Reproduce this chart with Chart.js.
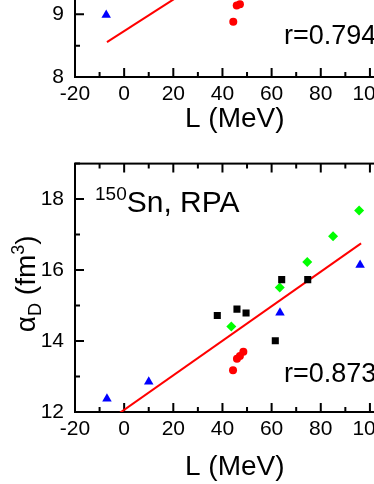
<!DOCTYPE html>
<html lang="en">
<head>
<meta charset="UTF-8">
<title>alpha_D vs L</title>
<script src="https://cdn.jsdelivr.net/npm/chart.js"></script>
<style>
  html, body { margin: 0; padding: 0; background: #fff; }
  body { position: relative; width: 374px; height: 484px; overflow: hidden; }
  canvas { position: absolute; left: 0; }
  #topChart { top: -260px; }
  #bottomChart { top: 140px; }
</style>
</head>
<body>
<canvas id="topChart" width="400" height="396"></canvas>
<canvas id="bottomChart" width="400" height="344"></canvas>

<script>
// x axis, shared by both panels
const xMin = -20, xMax = 110;
const xMajor = [-20, 0, 20, 40, 60, 80, 100];
const xMinor = [-10, 10, 30, 50, 70, 90, 110];

// top panel (only the bottom of it is in the picture)
const topYMin = 8, topYMax = 13;
const topYMajor = [8, 9, 10, 11, 12, 13];
const topYMinor = [8.5, 9.5, 10.5, 11.5, 12.5];
const topRedL = [44.4, 45.8, 47.1];
const topRedA = [8.88, 9.14, 9.16];
const topBlueL = [-7.3];
const topBlueA = [8.99];
const topFitL = [-7, 96];
const topFitA = [8.555, 11.15];

// bottom panel: 150Sn, RPA
const botYMin = 12, botYMax = 19;
const botYMajor = [12, 14, 16, 18];
const botYMinor = [13, 15, 17, 19];
const blackL = [37.9, 45.9, 49.6, 61.5, 64.1, 74.7];
const blackA = [14.72, 14.90, 14.79, 14.01, 15.73, 15.73];
const redL = [44.3, 45.9, 47.1, 48.5];
const redA = [13.18, 13.50, 13.58, 13.70];
const greenL = [43.6, 63.3, 74.5, 85.0, 95.6];
const greenA = [14.41, 15.51, 16.23, 16.95, 17.68];
const blueL = [-7.0, 10.0, 63.4, 96.0];
const blueA = [12.37, 12.85, 14.80, 16.14];
const fitL = [-7, 96.4];
const fitA = [11.72, 16.75];

const FONT = '"Liberation Sans", Arial, sans-serif';
Chart.defaults.font.family = FONT;
Chart.defaults.color = '#000';

const pts = (xs, ys) => xs.map((x, i) => ({ x: x, y: ys[i] }));

// box round the plot with inward major/minor ticks
const framePlugin = {
  id: 'frame',
  beforeDatasetsDraw(chart, args, o) {
    const { ctx, chartArea: a, scales: { x, y } } = chart;
    ctx.save();
    ctx.strokeStyle = '#000';
    ctx.lineWidth = 2;
    ctx.strokeRect(a.left, a.top, a.right - a.left, a.bottom - a.top);
    ctx.beginPath();
    const xt = (vals, len) => vals.forEach(v => {
      const p = x.getPixelForValue(v);
      ctx.moveTo(p, a.bottom); ctx.lineTo(p, a.bottom - len);
      ctx.moveTo(p, a.top); ctx.lineTo(p, a.top + len);
    });
    const yt = (vals, len) => vals.forEach(v => {
      const p = y.getPixelForValue(v);
      ctx.moveTo(a.left, p); ctx.lineTo(a.left + len, p);
      ctx.moveTo(a.right, p); ctx.lineTo(a.right - len, p);
    });
    xt(xMajor, 9); xt(xMinor, 5);
    yt(o.yMajor, 9); yt(o.yMinor, 5);
    ctx.stroke();
    ctx.restore();
  }
};

// text with sub/superscripts, y title, r value
function drawRuns(ctx, runs, x, y) {
  runs.forEach(r => {
    ctx.font = r[1] + 'px ' + FONT;
    ctx.fillText(r[0], x, y + r[2]);
    x += ctx.measureText(r[0]).width;
  });
}
function runsWidth(ctx, runs) {
  let w = 0;
  runs.forEach(r => { ctx.font = r[1] + 'px ' + FONT; w += ctx.measureText(r[0]).width; });
  return w;
}

const textPlugin = {
  id: 'texts',
  afterDraw(chart, args, o) {
    const { ctx, chartArea: a } = chart;
    ctx.save();
    ctx.fillStyle = '#000';
    ctx.textBaseline = 'alphabetic';
    ctx.textAlign = 'left';

    // y axis title: alpha_D (fm^3)
    const yRuns = [['α', 28, 0], ['D', 18, 6], [' (fm', 28, 0], ['3', 18, -11], [')', 28, 0]];
    const w = runsWidth(ctx, yRuns);
    ctx.save();
    ctx.translate(a.left - 40, (a.top + a.bottom) / 2 - 4);
    ctx.rotate(-Math.PI / 2);
    drawRuns(ctx, yRuns, -w / 2, 0);
    ctx.restore();

    ctx.font = '27px ' + FONT;
    ctx.fillText(o.rText, a.left + 209, a.bottom - o.rUp);

    if (o.label) {
      drawRuns(ctx, o.label, a.left + 20, a.top + 48.5);
    }
    ctx.restore();
  }
};

function makePanel(id, cfg) {
  return new Chart(document.getElementById(id), {
    type: 'scatter',
    data: {
      datasets: cfg.datasets
    },
    options: {
      responsive: false,
      animation: false,
      layout: { padding: { top: 13, right: 3, left: 0, bottom: 0 } },
      plugins: {
        legend: { display: false },
        tooltip: { enabled: false },
        frame: { yMajor: cfg.yMajor, yMinor: cfg.yMinor },
        texts: { rText: cfg.rText, rUp: cfg.rUp, label: cfg.label }
      },
      scales: {
        x: {
          type: 'linear', min: xMin, max: xMax,
          grid: { display: false, drawTicks: false, tickLength: 0 },
          border: { display: false },
          afterBuildTicks: s => { s.ticks = xMajor.map(v => ({ value: v })); },
          afterFit: s => { s.height = cfg.xHeight; },
          ticks: { autoSkip: false, maxRotation: 0, padding: 5, font: { size: 21 }, color: '#000' },
          title: { display: true, text: 'L (MeV)', color: '#000', font: { size: 28 }, padding: 0 }
        },
        y: {
          type: 'linear', min: cfg.yMin, max: cfg.yMax,
          grid: { display: false, drawTicks: false, tickLength: 0 },
          border: { display: false },
          afterBuildTicks: s => { s.ticks = cfg.yMajor.map(v => ({ value: v })); },
          afterFit: s => { s.width = 75; },
          ticks: { autoSkip: false, padding: 11, font: { size: 21 }, color: '#000' }
        }
      }
    },
    plugins: [framePlugin, textPlugin]
  });
}

function fitLine(xs, ys) {
  return { type: 'line', data: pts(xs, ys), borderColor: '#ff0000', borderWidth: 2,
           pointRadius: 0, fill: false, order: 2 };
}
function marks(xs, ys, color, style, r) {
  return { data: pts(xs, ys), pointStyle: style, pointRadius: r, backgroundColor: color,
           borderColor: color, borderWidth: 0, order: 1 };
}

makePanel('topChart', {
  yMin: topYMin, yMax: topYMax, yMajor: topYMajor, yMinor: topYMinor,
  xHeight: 59, rText: 'r=0.794', rUp: 32.7,
  datasets: [
    fitLine(topFitL, topFitA),
    marks(topRedL, topRedA, '#ff0000', 'circle', 4),
    marks(topBlueL, topBlueA, '#0000ff', 'triangle', 5.5)
  ]
});

makePanel('bottomChart', {
  yMin: botYMin, yMax: botYMax, yMajor: botYMajor, yMinor: botYMinor,
  xHeight: 72, rText: 'r=0.873', rUp: 30.3,
  label: [['150', 19, -12], ['Sn, RPA', 30, 0]],
  datasets: [
    fitLine(fitL, fitA),
    marks(blackL, blackA, '#000000', 'rect', 5),
    marks(redL, redA, '#ff0000', 'circle', 4),
    marks(greenL, greenA, '#00ff00', 'rectRot', 5),
    marks(blueL, blueA, '#0000ff', 'triangle', 5.5)
  ]
});
</script>
</body>
</html>
